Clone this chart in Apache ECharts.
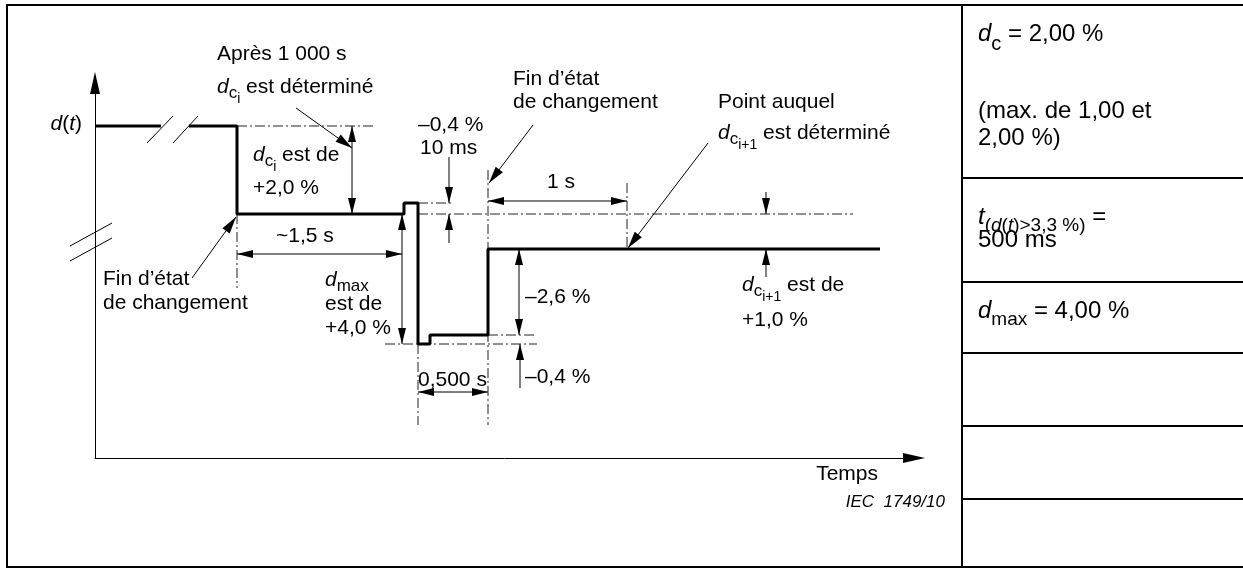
<!DOCTYPE html>
<html><head><meta charset="utf-8">
<script src="https://cdn.jsdelivr.net/npm/echarts@6/dist/echarts.min.js"></script>
<style>html,body{margin:0;padding:0;background:#fff;} #c{width:1243px;height:568px;}</style>
</head><body><div id="c"></div>
<script>
// ---------- Signal d(t), schematic units ----------
const historyTimes = [0, 66];          // part before the time break
const startTime = 94;                  // after the break
const changeTimes = [142, 309, 323, 335, 393];
const levels = [332, 244, 255, 114, 123, 209];
const endTime = 785;

// ---------- Construction lines (dash-dot), [x1, y1, x2, y2] ----------
const dashDotLines = [
  [142, 332, 280, 332], [142, 244, 142, 170], [323, 255, 358, 255],
  [323, 244, 758, 244], [393, 288, 393, 33], [532, 275, 532, 209],
  [290, 114, 442, 114], [393, 123, 440, 123], [323, 114, 323, 33]
];
// Double-headed dimension arrows
const dimensionArrows = [
  [257, 332, 257, 244], [142, 204, 307, 204], [307, 244, 307, 114],
  [393, 257, 532, 257], [424, 209, 424, 123], [323, 66, 393, 66]
];
// Single short arrows (from -> tip)
const pointerArrows = [
  [354, 301, 354, 255], [354, 215, 354, 244], [425, 70, 425, 114],
  [671, 266, 671, 244], [671, 181, 671, 209]
];
// Leader arrows (from -> tip)
const leaderArrows = [
  [201, 350, 257, 310], [97, 180, 141, 241], [438, 333, 394, 275], [613, 315, 533, 210]
];
// Break marks
const breakMarks = [
  [52, 315, 78, 342], [78, 315, 103, 342], [-25, 212, 17, 235], [-25, 197, 17, 220]
];
// Labels: anchor [x, baseline] and text
const labelAnchors = [
  [122, 396], [122, 363], [158, 295], [158, 262], [181, 214], [230, 170], [230, 146], [230, 122],
  [323, 325], [325, 302], [418, 371], [418, 348], [452, 268], [623, 348], [623, 317],
  [647, 165], [647, 130], [430, 153], [430, 73], [323, 70], [8, 171], [8, 147], [-13, 326]
];
const labelTexts = [
  '{n|Après 1 000 s}', '{i|d}{s|c}{ss|i}{n| est déterminé}', '{i|d}{s|c}{ss|i}{n| est de}', '{n|+2,0 %}',
  '{n|~1,5 s}', '{i|d}{s|max}', '{n|est de}', '{n|+4,0 %}',
  '{n|–0,4 %}', '{n|10 ms}', '{n|Fin d’état}', '{n|de changement}', '{n|1 s}',
  '{n|Point auquel}', '{i|d}{s|c}{ss|i+1}{n| est déterminé}',
  '{i|d}{s|c}{ss|i+1}{n| est de}', '{n|+1,0 %}', '{n|–2,6 %}', '{n|–0,4 %}', '{n|0,500 s}',
  '{n|Fin d’état}', '{n|de changement}', '{i|d}{n|(}{i|t}{n|)}'
];
const tableTexts = [
  '{I|d}{S|c}{N| = 2,00 %}', '{N|(max. de 1,00 et}', '{N|2,00 %)}',
  '{I|t}{T|(}{TI|d}{T|(}{TI|t}{T|)>3,3 %)}{N| =}', '{N|500 ms}', '{I|d}{M|max}{N| = 4,00 %}'
];
const xAxisName = 'Temps';
const figureRef = 'IEC  1749/10';

// ---------- build ----------
const FONT = "'Liberation Sans', Arial, Helvetica, sans-serif";
const signalPts = [[startTime, levels[0]]];
changeTimes.forEach((t, i) => { signalPts.push([t, levels[i]], [t, levels[i + 1]]); });
signalPts.push([endTime, levels[levels.length - 1]]);
const historyPts = historyTimes.map(t => [t, levels[0]]);

function tok(fs, extra) {
  return Object.assign({fontSize: fs, fontFamily: FONT, fill: '#000', color: '#000', verticalAlign: 'top'}, extra || {});
}
const FS = 21;
const chartRich = {
  n: tok(FS), i: tok(FS, {fontStyle: 'italic'}),
  s: tok(17, {padding: [7.4, 0, 0, 0]}), ss: tok(14, {padding: [14.9, 0, 0, 0]})
};
const TS = 24;
const tableRich = {
  N: tok(TS), I: tok(TS, {fontStyle: 'italic'}),
  S: tok(20, {padding: [11.4, 0, 0, 0]}), M: tok(19, {padding: [10.2, 0, 0, 0]}),
  T: tok(19, {padding: [10.2, 0, 0, 0]}), TI: tok(19, {fontStyle: 'italic', padding: [10.2, 0, 0, 0]})
};

function head(p, q, L, W) {
  const dx = q[0] - p[0], dy = q[1] - p[1], len = Math.hypot(dx, dy) || 1;
  const ux = dx / len, uy = dy / len, bx = q[0] - ux * L, by = q[1] - uy * L;
  return {type: 'polygon', shape: {points: [[q[0], q[1]], [bx - uy * W, by + ux * W], [bx + uy * W, by - ux * W]]},
    style: {fill: '#000', stroke: null}};
}
function seg(p, q, style) {
  return {type: 'line', shape: {x1: p[0], y1: p[1], x2: q[0], y2: q[1]}, style: style};
}
const thin = {stroke: '#000', lineWidth: 1, fill: null};
function pts(api) {
  return [api.coord([api.value(0), api.value(1)]), api.coord([api.value(2), api.value(3)])];
}
function customSeries(name, data, render) {
  return {type: 'custom', name: name, data: data, silent: true, clip: false, animation: false,
    encode: {x: 0, y: 1}, renderItem: render};
}

const tableLinesY = [178, 282, 353, 426, 499];
const tableBaselines = [43, 120, 147, 226, 249, 320];
const graphics = [
  {type: 'rect', shape: {x: 7, y: 5, width: 1245, height: 562}, style: {fill: 'none', stroke: '#000', lineWidth: 2}},
  {type: 'line', shape: {x1: 962, y1: 5, x2: 962, y2: 567}, style: {stroke: '#000', lineWidth: 2}}
];
tableLinesY.forEach(y => graphics.push({type: 'line', shape: {x1: 962, y1: y, x2: 1245, y2: y}, style: {stroke: '#000', lineWidth: 2}}));
tableTexts.forEach((t, i) => graphics.push({type: 'text', x: 978, y: tableBaselines[i] - 0.85 * TS,
  style: {text: t, rich: tableRich, verticalAlign: 'top', align: 'left', fill: '#000', font: TS + 'px ' + FONT}}));
graphics.push({type: 'text', x: 945, y: 508 - 14.5, style: {text: figureRef, verticalAlign: 'top', align: 'right',
  fill: '#000', font: 'italic 17px ' + FONT}});

const chart = echarts.init(document.getElementById('c'), null, {renderer: 'canvas'});
const option = {
  animation: false,
  backgroundColor: '#fff',
  grid: {left: 95, right: 329, top: 83, bottom: 110, containLabel: false},
  xAxis: {
    type: 'value', min: 0, max: 819,
    axisLine: {show: true, symbol: ['none', 'triangle'], symbolSize: [10, 22], lineStyle: {color: '#000', width: 1}},
    axisTick: {show: false}, axisLabel: {show: false}, splitLine: {show: false},
    name: xAxisName, nameLocation: 'end', nameGap: -36,
    nameTextStyle: {align: 'right', verticalAlign: 'top', padding: [6, 0, 0, 0], fontSize: FS, fontFamily: FONT, color: '#000'}
  },
  yAxis: {
    type: 'value', min: 0, max: 375,
    axisLine: {show: true, symbol: ['none', 'triangle'], symbolSize: [10, 22], lineStyle: {color: '#000', width: 1}},
    axisTick: {show: false}, axisLabel: {show: false}, splitLine: {show: false}
  },
  series: [
    customSeries('dashdot', dashDotLines, (p, api) => {
      const [a, b] = pts(api);
      return seg(a, b, {stroke: '#222', lineWidth: 1, lineDash: [10, 3, 2, 3], fill: null});
    }),
    customSeries('breaks', breakMarks, (p, api) => { const [a, b] = pts(api); return seg(a, b, thin); }),
    customSeries('dimensions', dimensionArrows, (p, api) => {
      const [a, b] = pts(api);
      return {type: 'group', children: [seg(a, b, thin), head(a, b, 16, 4), head(b, a, 16, 4)]};
    }),
    customSeries('pointers', pointerArrows, (p, api) => {
      const [a, b] = pts(api);
      return {type: 'group', children: [seg(a, b, thin), head(a, b, 16, 4)]};
    }),
    customSeries('leaders', leaderArrows, (p, api) => {
      const [a, b] = pts(api);
      return {type: 'group', children: [seg(a, b, thin), head(a, b, 17, 4.5)]};
    }),
    {type: 'line', name: 'history', data: historyPts, showSymbol: false, symbol: 'none', silent: true,
      lineStyle: {color: '#000', width: 3}, z: 5},
    {type: 'line', name: 'd(t)', data: signalPts, showSymbol: false, symbol: 'none', silent: true,
      lineStyle: {color: '#000', width: 3}, z: 5},
    customSeries('labels', labelAnchors, (p, api) => {
      const c = api.coord([api.value(0), api.value(1)]);
      const i = p.dataIndex;
      return {type: 'text', x: c[0], y: c[1] - 0.85 * FS, style: {text: labelTexts[i], rich: chartRich,
        align: i === labelTexts.length - 1 ? 'right' : 'left', verticalAlign: 'top', fill: '#000', font: FS + 'px ' + FONT}};
    })
  ],
  graphic: {elements: graphics}
};
chart.setOption(option);
</script></body></html>
